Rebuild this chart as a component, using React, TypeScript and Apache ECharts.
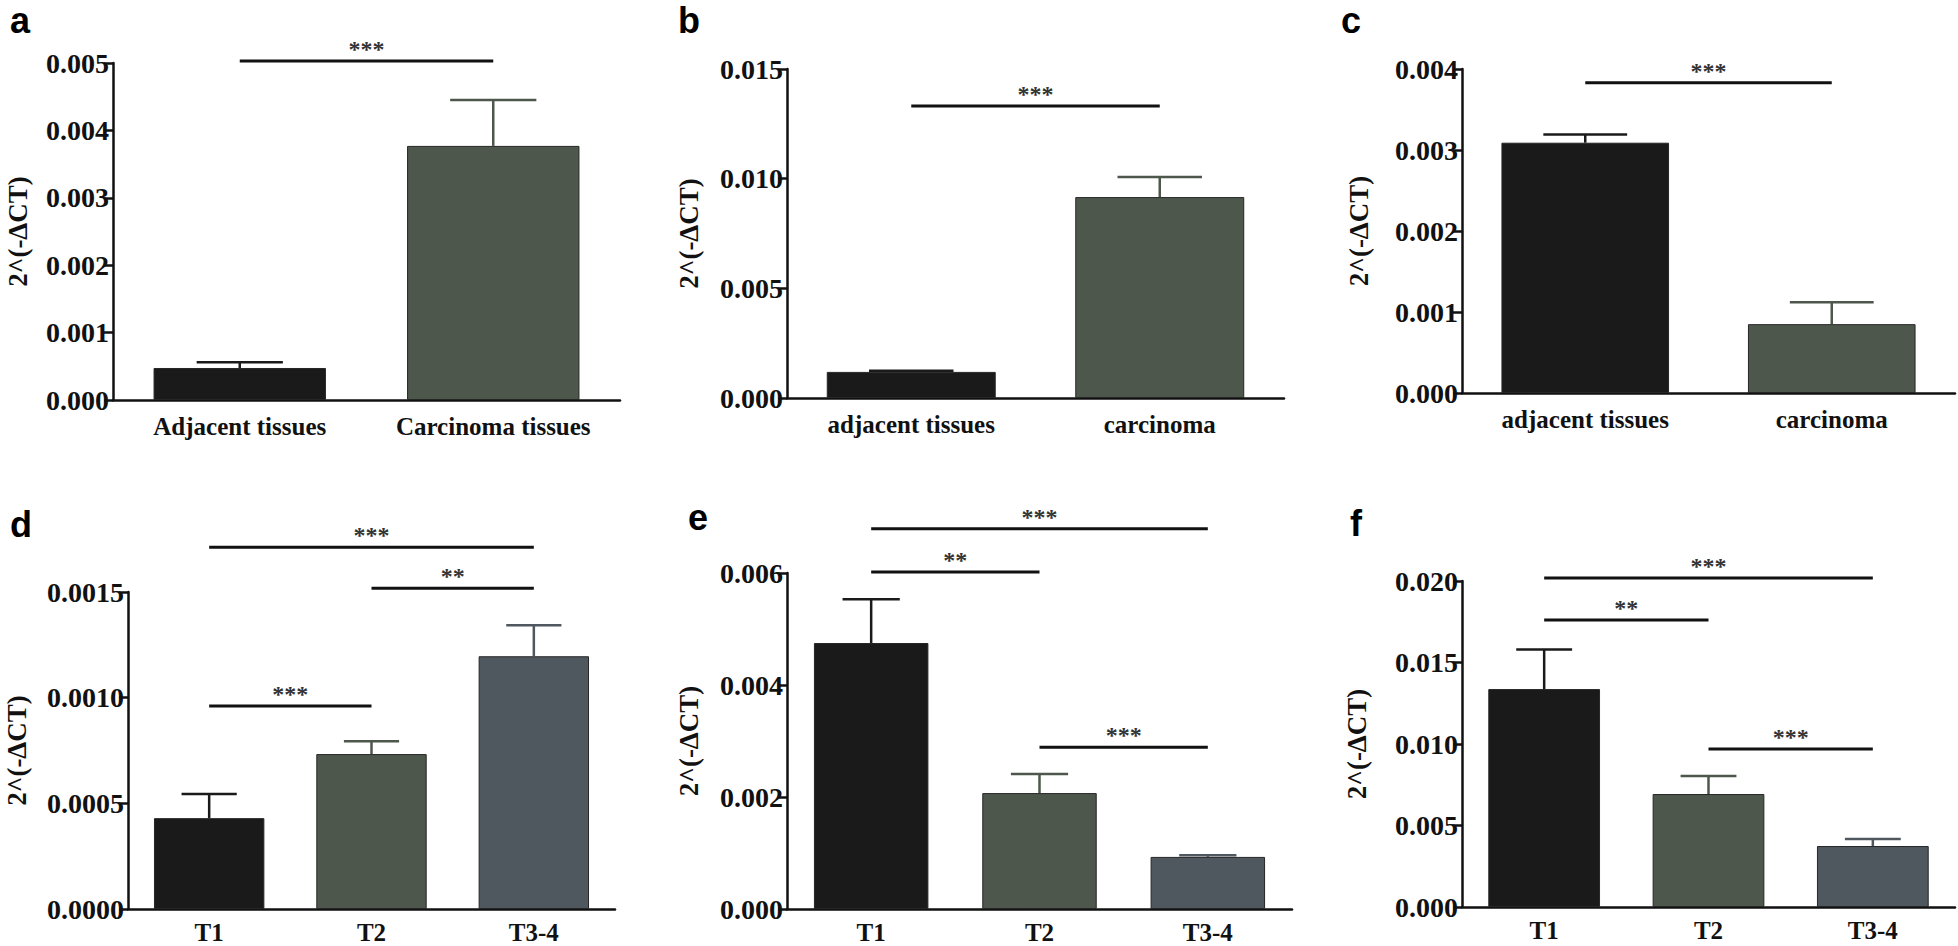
import React, { useEffect, useRef } from 'react';
import * as echarts from 'echarts';

const Y_TITLE = '2^(-ΔCT)';
const BAR_COLORS = ['#1b1a1b', '#4e574c', '#4f575f'];

// Panel a
const CATS_A = ['Adjacent tissues', 'Carcinoma tissues'];
const MEAN_A = [0.000475, 0.00377];
const ERR_TOP_A = [0.00056, 0.00445];
const SIG_A = [[0, 1, 0.00503]];
const SIG_LABEL_A = ['***'];

// Panel b
const CATS_B = ['adjacent tissues', 'carcinoma'];
const MEAN_B = [0.00119, 0.00916];
const ERR_TOP_B = [0.00124, 0.01008];
const SIG_B = [[0, 1, 0.01331]];
const SIG_LABEL_B = ['***'];

// Panel c
const CATS_C = ['adjacent tissues', 'carcinoma'];
const MEAN_C = [0.00309, 0.00085];
const ERR_TOP_C = [0.00319, 0.00112];
const SIG_C = [[0, 1, 0.00383]];
const SIG_LABEL_C = ['***'];

// Panel d
const CATS_D = ['T1', 'T2', 'T3-4'];
const MEAN_D = [0.00043, 0.000733, 0.001196];
const ERR_TOP_D = [0.000544, 0.000794, 0.001343];
const SIG_D = [[0, 2, 0.001712], [1, 2, 0.001518], [0, 1, 0.00096]];
const SIG_LABEL_D = ['***', '**', '***'];

// Panel e
const CATS_E = ['T1', 'T2', 'T3-4'];
const MEAN_E = [0.00475, 0.00207, 0.00093];
const ERR_TOP_E = [0.00553, 0.00241, 0.00096];
const SIG_E = [[0, 2, 0.00679], [0, 1, 0.00602], [1, 2, 0.00289]];
const SIG_LABEL_E = ['***', '**', '***'];

// Panel f
const CATS_F = ['T1', 'T2', 'T3-4'];
const MEAN_F = [0.01337, 0.00693, 0.00374];
const ERR_TOP_F = [0.0158, 0.00804, 0.00417];
const SIG_F = [[0, 2, 0.02018], [0, 1, 0.0176], [1, 2, 0.00969]];
const SIG_LABEL_F = ['***', '**', '***'];

// Axis scales
const Y_MAX = [0.005, 0.015, 0.004, 0.0015, 0.006, 0.02];
const Y_STEP = [0.001, 0.005, 0.001, 0.0005, 0.002, 0.005];
const Y_DECIMALS = [3, 3, 3, 4, 3, 3];
const PANEL_LETTERS = ['a', 'b', 'c', 'd', 'e', 'f'];

const PANELS = [
  { cats: CATS_A, mean: MEAN_A, err: ERR_TOP_A, sig: SIG_A, sigLabel: SIG_LABEL_A },
  { cats: CATS_B, mean: MEAN_B, err: ERR_TOP_B, sig: SIG_B, sigLabel: SIG_LABEL_B },
  { cats: CATS_C, mean: MEAN_C, err: ERR_TOP_C, sig: SIG_C, sigLabel: SIG_LABEL_C },
  { cats: CATS_D, mean: MEAN_D, err: ERR_TOP_D, sig: SIG_D, sigLabel: SIG_LABEL_D },
  { cats: CATS_E, mean: MEAN_E, err: ERR_TOP_E, sig: SIG_E, sigLabel: SIG_LABEL_E },
  { cats: CATS_F, mean: MEAN_F, err: ERR_TOP_F, sig: SIG_F, sigLabel: SIG_LABEL_F },
];

// Layout (pixels)
const GRIDS = [
  { left: 113, top: 63, width: 507, height: 337 },
  { left: 787, top: 69, width: 497, height: 329 },
  { left: 1462, top: 69, width: 493, height: 324 },
  { left: 128, top: 592, width: 487, height: 317 },
  { left: 787, top: 573, width: 505, height: 336 },
  { left: 1462, top: 581, width: 493, height: 326 },
];
const NAME_GAPS = [82, 85, 90, 98, 85, 92];
const X_LABEL_MARGIN = [14, 14, 14, 11, 11, 11];
const LETTER_POS = [
  [10, 20], [678, 20], [1341, 20], [10, 524], [688, 517], [1350, 523],
];

const INK = '#111111';
const SERIF = '"Liberation Serif", "Times New Roman", serif';

export default function App() {
  const ref = useRef<HTMLDivElement>(null);

  useEffect(() => {
    if (!ref.current) return;
    const chart = echarts.init(ref.current, undefined, { renderer: 'svg' });

    const grid: any[] = [];
    const xAxis: any[] = [];
    const yAxis: any[] = [];
    const series: any[] = [];

    PANELS.forEach((p, i) => {
      grid.push({ ...GRIDS[i], containLabel: false });
      xAxis.push({
        type: 'category',
        gridIndex: i,
        data: p.cats,
        axisLine: { show: true, lineStyle: { color: INK, width: 2.5 } },
        axisTick: { show: false },
        axisLabel: {
          color: INK,
          fontFamily: SERIF,
          fontWeight: 'bold',
          fontSize: 25,
          margin: X_LABEL_MARGIN[i],
        },
      });
      const dec = Y_DECIMALS[i];
      yAxis.push({
        type: 'value',
        gridIndex: i,
        min: 0,
        max: Y_MAX[i],
        interval: Y_STEP[i],
        splitLine: { show: false },
        axisLine: { show: true, lineStyle: { color: INK, width: 2.5 } },
        axisTick: { show: true, length: 9, lineStyle: { color: INK, width: 2.5 } },
        axisLabel: {
          color: INK,
          fontFamily: SERIF,
          fontWeight: 'bold',
          fontSize: 28,
          margin: 4,
          formatter: (v: number) => v.toFixed(dec),
        },
        name: Y_TITLE,
        nameLocation: 'middle',
        nameRotate: 90,
        nameGap: NAME_GAPS[i],
        nameTextStyle: {
          color: INK,
          fontFamily: SERIF,
          fontWeight: 'bold',
          fontSize: 27,
        },
      });

      series.push({
        type: 'bar',
        xAxisIndex: i,
        yAxisIndex: i,
        barWidth: '68%',
        data: p.mean.map((v, j) => ({
          value: v,
          itemStyle: { color: BAR_COLORS[j] },
        })),
        itemStyle: { borderColor: '#262626', borderWidth: 1 },
        silent: true,
      });

      series.push({
        type: 'custom',
        xAxisIndex: i,
        yAxisIndex: i,
        data: p.mean.map((v, j) => [j, v, p.err[j]]),
        encode: { x: 0, y: [1, 2] },
        z: 3,
        silent: true,
        renderItem: (params: any, api: any) => {
          const idx = api.value(0);
          const base = api.coord([idx, api.value(1)]);
          const top = api.coord([idx, api.value(2)]);
          const bw = api.size([1, 0])[0] * 0.68;
          const half = bw * 0.25;
          const color = BAR_COLORS[params.dataIndex];
          const style = { stroke: color, lineWidth: 2.5 };
          return {
            type: 'group',
            children: [
              { type: 'line', shape: { x1: base[0], y1: base[1], x2: top[0], y2: top[1] }, style },
              { type: 'line', shape: { x1: top[0] - half, y1: top[1], x2: top[0] + half, y2: top[1] }, style },
            ],
          };
        },
      });

      series.push({
        type: 'custom',
        xAxisIndex: i,
        yAxisIndex: i,
        data: p.sig.map((s) => [s[0], s[1], s[2]]),
        encode: { x: [0, 1], y: 2 },
        clip: false,
        z: 4,
        silent: true,
        renderItem: (params: any, api: any) => {
          const p1 = api.coord([api.value(0), api.value(2)]);
          const p2 = api.coord([api.value(1), api.value(2)]);
          return {
            type: 'group',
            children: [
              {
                type: 'line',
                shape: { x1: p1[0], y1: p1[1], x2: p2[0], y2: p2[1] },
                style: { stroke: INK, lineWidth: 3 },
              },
              {
                type: 'text',
                x: (p1[0] + p2[0]) / 2,
                y: p1[1] - 12,
                style: {
                  text: p.sigLabel[params.dataIndex],
                  fill: '#333333',
                  fontFamily: SERIF,
                  fontWeight: 'bold',
                  fontSize: 24,
                  align: 'center',
                  verticalAlign: 'middle',
                },
              },
            ],
          };
        },
      });
    });

    const graphic = PANEL_LETTERS.map((t, i) => ({
      type: 'text',
      x: LETTER_POS[i][0],
      y: LETTER_POS[i][1],
      style: {
        text: t,
        fill: '#000000',
        fontFamily: '"Liberation Sans", Arial, sans-serif',
        fontWeight: 'bold',
        fontSize: 36,
        align: 'left',
        verticalAlign: 'middle',
      },
    }));

    chart.setOption({
      animation: false,
      backgroundColor: '#ffffff',
      grid,
      xAxis,
      yAxis,
      series,
      graphic,
    });

    return () => chart.dispose();
  }, []);

  return (
    <div
      ref={ref}
      style={{ position: 'absolute', left: 0, top: 0, width: 1958, height: 946 }}
    />
  );
}
